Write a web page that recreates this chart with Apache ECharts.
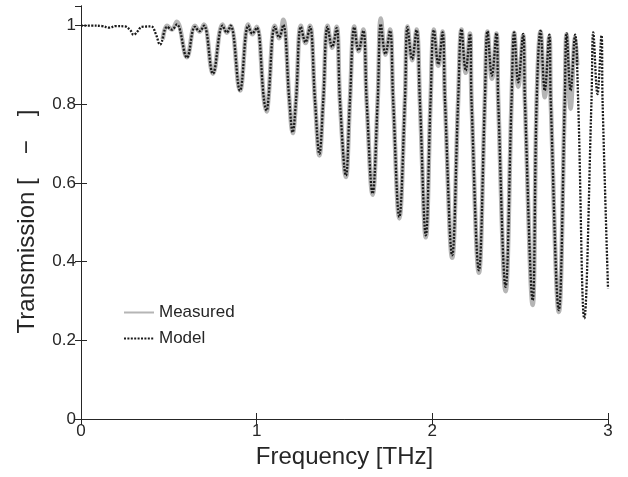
<!DOCTYPE html>
<html>
<head>
<meta charset="utf-8">
<script src="https://cdn.jsdelivr.net/npm/echarts@6/dist/echarts.min.js"></script>
<style>html,body{margin:0;padding:0;background:#fff}#c{width:628px;height:477px}</style>
</head>
<body>
<div id="c"></div>
<script>
// Model (dotted black) — frequency [THz] and transmission
const modelFreq = [0,0.06,0.12,0.16,0.2,0.25,0.28,0.30,0.325,0.345,0.40,0.425,
0.45,0.49,0.517,0.545,
0.603,0.649,0.675,0.70,
0.751,0.806,0.83,0.852,
0.905,0.952,0.975,1.0,
1.042,1.057,1.066,1.104,1.128,1.151,
1.186,1.205,1.224,1.252,1.278,1.303,
1.332,1.357,1.379,1.404,1.43,1.455,
1.474,1.508,1.531,1.556,1.58,1.607,
1.626,1.66,1.689,1.707,1.733,1.759,
1.777,1.812,1.844,1.859,1.885,1.91,
1.929,1.963,1.99,2.009,2.034,2.058,
2.072,2.113,2.147,2.166,2.19,2.214,
2.223,2.265,2.299,2.314,2.339,2.365,
2.375,2.417,2.451,2.466,2.489,2.517,
2.527,2.571,2.594,2.616,2.64,2.666,
2.674,2.72,2.754,2.764,2.787,2.813,
2.83,2.865,2.906,2.916,2.94,2.963,
2.969,3.0];
const modelT = [1.0,1.0,0.999,0.995,0.999,0.998,0.989,0.977,0.987,0.997,0.998,0.98,
0.952,0.997,0.99,1.003,
0.919,0.997,0.986,1.0,
0.878,1.0,0.983,1.0,
0.835,1.0,0.98,0.995,
0.81,0.784,0.81,0.997,0.97,1.002,
0.81,0.729,0.81,0.997,0.958,0.997,
0.81,0.674,0.81,0.997,0.946,0.994,
0.81,0.619,0.81,0.996,0.937,0.987,
0.81,0.573,0.81,1.004,0.928,0.987,
0.81,0.514,0.81,0.996,0.915,0.989,
0.81,0.467,0.81,0.989,0.902,0.983,
0.81,0.416,0.81,0.991,0.886,0.979,
0.81,0.378,0.81,0.986,0.873,0.981,
0.81,0.336,0.81,0.983,0.856,0.979,
0.81,0.302,0.81,0.987,0.835,0.977,
0.81,0.277,0.81,0.981,0.835,0.977,
0.81,0.256,0.81,0.983,0.826,0.975,
0.81,0.332];

// Measured (thick grey)
const measFreq = [0.465,0.49,0.517,0.545,
0.603,0.649,0.675,0.70,
0.751,0.806,0.83,0.852,
0.905,0.952,0.975,1.0,
1.042,1.057,1.066,1.104,1.128,1.151,
1.186,1.205,1.224,1.252,1.278,1.303,
1.332,1.357,1.379,1.404,1.43,1.455,
1.474,1.508,1.531,1.556,1.58,1.607,
1.626,1.66,1.689,1.707,1.733,1.759,
1.777,1.812,1.844,1.859,1.885,1.91,
1.929,1.963,1.99,2.009,2.034,2.058,
2.072,2.113,2.147,2.166,2.19,2.214,
2.223,2.265,2.299,2.314,2.339,2.365,
2.375,2.417,2.451,2.466,2.489,2.517,
2.527,2.571,2.594,2.616,2.64,2.666,
2.674,2.72,2.754,2.764,2.787,2.813,2.825];
const measT = [0.965,1.0,0.99,1.01,
0.92,1.0,0.985,1.003,
0.878,1.003,0.982,1.0,
0.835,1.003,0.978,0.997,
0.81,0.782,0.81,1.0,0.968,1.015,
0.81,0.727,0.81,1.0,0.956,1.0,
0.81,0.67,0.81,1.0,0.944,0.997,
0.81,0.615,0.81,0.998,0.935,0.99,
0.81,0.57,0.81,1.018,0.926,0.99,
0.81,0.51,0.81,0.998,0.912,0.99,
0.81,0.462,0.81,0.99,0.898,0.985,
0.81,0.41,0.81,0.99,0.88,0.98,
0.81,0.372,0.81,0.985,0.865,0.98,
0.81,0.325,0.81,0.982,0.845,0.975,
0.81,0.29,0.81,0.985,0.818,0.972,
0.81,0.272,0.81,0.978,0.789,0.97,0.9];

const xTicks = [0,1,2,3];
const yTicks = [0,0.2,0.4,0.6,0.8,1];

const FONT = '"Liberation Sans", Arial, Helvetica, sans-serif';
const TXT = '#262626';
const zip = (a,b)=>a.map((v,i)=>[v,b[i]]);

const chart = echarts.init(document.getElementById('c'), null, {renderer:'canvas'});
const tickStyle = () => ({show:true, inside:true, length:6, lineStyle:{color:TXT,width:1}});
chart.setOption({
  animation:false,
  backgroundColor:'#fff',
  grid:{left:81,right:20,top:6,bottom:58,containLabel:false},
  legend:{
    orient:'vertical', left:118, top:299, itemWidth:30, itemHeight:14, itemGap:9,
    itemStyle:{opacity:0, borderWidth:0},
    textStyle:{fontFamily:FONT,fontSize:17,color:TXT},
    data:['Measured','Model']
  },
  xAxis:[{
    type:'value', min:0, max:3, interval:1,
    name:'Frequency [THz]', nameLocation:'middle', nameGap:21,
    nameTextStyle:{fontFamily:FONT,fontSize:24,color:TXT},
    axisLine:{show:true,lineStyle:{color:TXT,width:1}},
    axisTick:tickStyle(),
    axisLabel:{fontFamily:FONT,fontSize:17,color:TXT,margin:4,
      formatter:v=>xTicks.includes(v)?String(v):''},
    splitLine:{show:false}
  },{
    type:'value', min:0, max:3, interval:1, position:'top',
    axisLine:{show:true,lineStyle:{color:TXT,width:1}},
    axisTick:tickStyle(), axisLabel:{show:false}, splitLine:{show:false}
  }],
  yAxis:[{
    type:'value', min:0, max:1.05, interval:0.2,
    name:'Transmission [\u2003\u2212\u2003]', nameLocation:'middle', nameGap:42,
    nameTextStyle:{fontFamily:FONT,fontSize:24,color:TXT,padding:[0,18,0,0]},
    axisLine:{show:true,lineStyle:{color:TXT,width:1}},
    axisTick:tickStyle(),
    axisLabel:{fontFamily:FONT,fontSize:17,color:TXT,margin:5,showMaxLabel:false,
      formatter:v=>{const t=yTicks.find(y=>Math.abs(y-v)<1e-6);return t===undefined?'':String(t);}},
    splitLine:{show:false}
  },{
    type:'value', min:0, max:1.05, interval:0.2, position:'right',
    axisLine:{show:true,lineStyle:{color:TXT,width:1}},
    axisTick:tickStyle(), axisLabel:{show:false}, splitLine:{show:false}
  }],
  series:[{
    name:'Measured', type:'line', data:zip(measFreq,measT),
    smooth:0.4, symbol:'none', clip:true,
    lineStyle:{color:'#b5b5b5',width:4.5}, itemStyle:{color:'#b5b5b5'}
  },{
    name:'Model', type:'line', data:zip(modelFreq,modelT),
    smooth:0.4, symbol:'none', clip:true,
    lineStyle:{color:'#1a1a1a',width:2.3,type:[2,1.4]}, itemStyle:{color:'#1a1a1a'}
  }]
});
</script>
</body>
</html>
